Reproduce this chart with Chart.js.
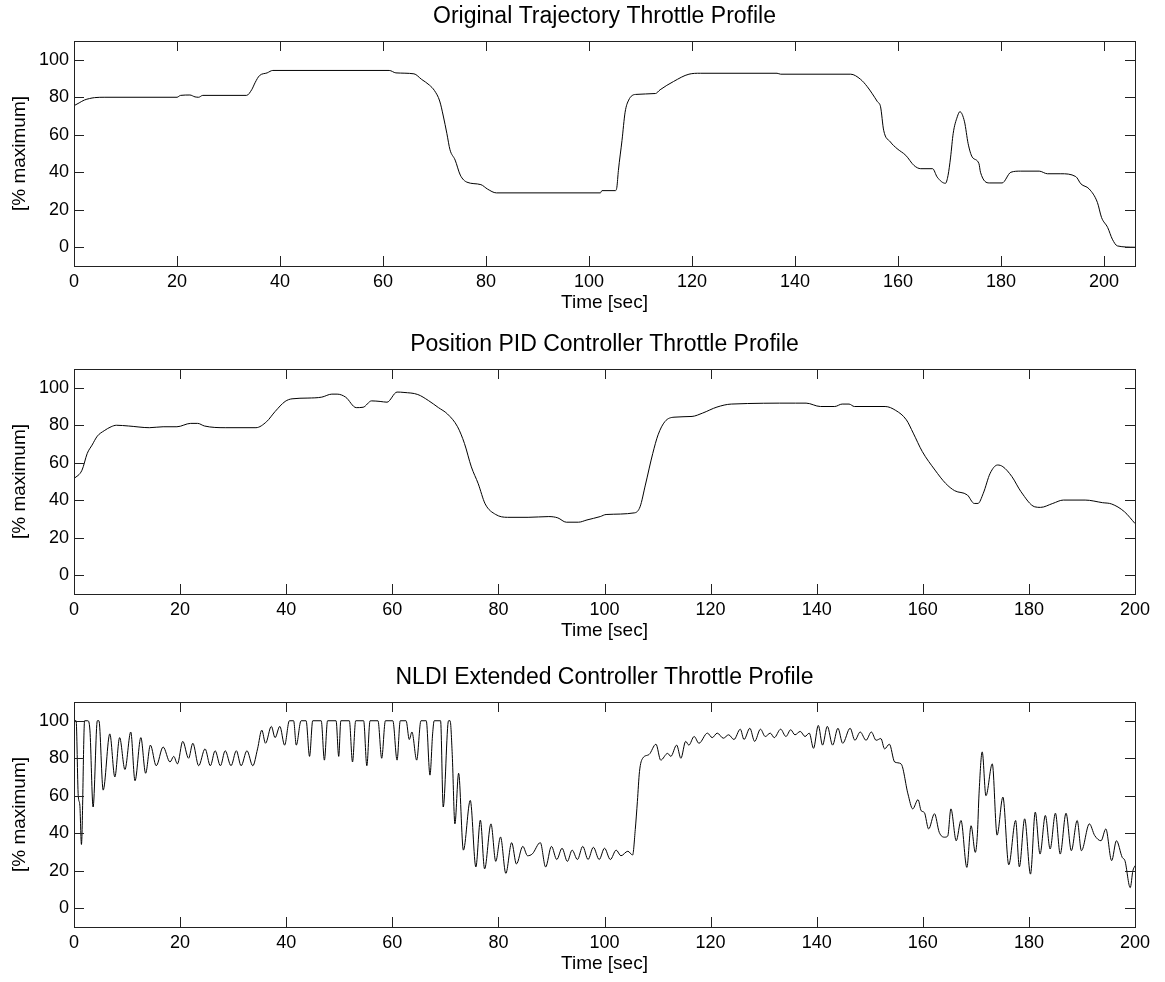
<!DOCTYPE html>
<html lang="en">
<head>
<meta charset="UTF-8">
<title>Throttle Profiles</title>
<script src="https://cdn.jsdelivr.net/npm/chart.js@4.4.1/dist/chart.umd.min.js"></script>
<style>
  body { margin: 0; background: #fff; }
  canvas.panel { position: absolute; left: 0; }
</style>
</head>
<body>
<canvas id="trajChart" class="panel" width="1165" height="316" style="top:0px"></canvas>
<canvas id="pidChart" class="panel" width="1165" height="316" style="top:328px"></canvas>
<canvas id="nldiChart" class="panel" width="1165" height="316" style="top:661px"></canvas>
<script>
// sampled throttle profiles, [time sec, % maximum]
var trajSamples = [
  [0,75.5],[1,77],[2,78.5],[3,79.3],[4,79.8],[6,80],[20,80],[20.7,81],[22.5,81.2],[23.5,80.2],
  [24.2,80],[25,81],[33.5,81],[34.5,84],[35.2,88],[36,91.5],[37.5,93],[38.6,94.3],[61.2,94.3],[62.5,93],
  [66,92.5],[67.5,89.5],[69,86.5],[70,83.5],[71,78],[71.7,70],[72.4,60.6],[73,52],[74,46.5],[75,38.5],
  [76.3,34.7],[79,33.4],[80.3,31],[82,29],[102.2,29],[102.5,30.2],[105.1,30.2],[105.4,32],[105.7,41],[106.4,57],
  [107,72],[107.7,78.5],[109,81.5],[112.9,82],[113.8,84],[116.4,88.4],[119.4,92.3],[121.6,92.8],[136.5,92.8],[137.2,92.3],
  [150.8,92.3],[152.7,89.6],[154,85.7],[156,77.6],[156.6,74.9],[157.2,62.4],[158.5,56.2],[159.8,52.6],[161.5,49],[163.1,43.6],
  [164.4,41.9],[166.7,41.9],[167.6,37.4],[169.2,34.1],[169.7,38.3],[170.2,48.1],[170.7,60.7],[171.5,69.6],[172,72.3],[172.9,66.9],
  [173.6,55.3],[174.4,48.1],[175.7,44.6],[176,40],[177.7,34.3],[180.2,34.3],[181.9,40],[183.8,40.6],[187.4,40.6],[189,39.2],
  [191.6,39.2],[194.5,37.7],[195.5,33.8],[197.1,31.1],[198.7,23.9],[199.5,15.9],[200.7,10.5],[201.6,4.3],[202.6,0.7],[206,0]
];

var pidSamples = [
  [0,51.5],[1.5,56],[2.5,65],[3.4,69.4],[4.4,74.2],[5.7,77.1],[7,79.2],[8,80],[10.3,79.6],[14.2,78.7],
  [16.8,79.2],[19.4,79.2],[22,81],[23.3,81],[24.6,79.6],[28.5,78.7],[34.3,78.7],[36.3,81.9],[37.9,87.3],[39.8,92.7],
  [41.1,94.1],[44.1,94.5],[46.7,95],[48.6,96.6],[49.6,96.6],[51.2,95],[53.2,89.4],[54.5,89.6],[56.1,93],[57.7,92.7],
  [59,92.3],[60.9,97.7],[62.2,97.5],[64.8,96.4],[66.8,93.2],[68.7,89.4],[70.4,86],[72.3,79.2],[73.6,70.3],[74.9,57.8],
  [76.2,48.8],[77.5,38.1],[79.5,32.4],[81.7,30.9],[85.6,30.9],[89.5,31.3],[91.2,30.6],[92.8,28.3],[95.1,28.3],[96.7,29.5],
  [99.2,31.3],[100.3,32.4],[105.7,33.3],[106.7,36.5],[107.7,48.1],[109.1,65],[110.1,74.9],[111.4,82],[113.1,84.3],[116.5,84.7],
  [118.5,86.5],[121.2,89.7],[123.9,91.3],[136,91.8],[138,91.8],[140.7,90],[143.4,90],[144.8,91.3],[146.1,91.3],[147.1,90],
  [152.9,90],[154.9,87.9],[156.9,82.9],[158.2,75.8],[159.9,66],[162.3,56.1],[164.3,49],[166,45.1],[168.4,42.8],[169.7,38.3],
  [170.4,38.3],[171.4,43.7],[172.7,54.4],[174.1,58.8],[175.1,57.9],[176.8,52.6],[178.5,44.6],[181.1,36.5],[182.2,36.2],[184.5,38.3],
  [186.5,40.1],[190.6,40.1],[193.9,38.7],[195.6,38],[198,33.9],[200,27.6]
];

var nldiSamples = [
  [0,100],[0.4,100],[0.8,60],[1.1,55],[1.4,34],[2.0,100],[2.6,100],[3.0,95],[3.6,54],[4.4,100],
  [4.7,100],[5.5,63],[6.75,93],[7.7,70],[8.6,91],[9.6,74],[10.7,94],[11.5,68],[12.6,91],[13.5,72],
  [14.4,87],[15.5,76],[16.8,86],[18.1,78],[18.8,81],[19.5,77],[20.5,89],[21.6,80],[22.4,88],[23.5,76],
  [24.7,85],[25.7,76],[26.6,84],[27.6,76],[28.5,84],[29.6,76],[30.6,84],[31.5,76],[32.6,84],[33.7,76],
  [34.6,85],[35.4,95],[36.1,88],[37.2,97],[37.9,91],[38.8,97],[39.7,87],[40.6,100],[41.4,100],[41.9,87],
  [42.8,100],[43.75,100],[44.4,81],[45,100],[46.6,100],[47.2,79],[47.8,100],[49.4,100],[49.9,81],[50.3,100],
  [51.9,100],[52.5,78],[53.1,100],[54.6,100],[55.2,76],[55.8,100],[57.3,100],[58.0,80],[58.7,100],[60.1,100],
  [60.9,79],[61.5,100],[62.6,100],[63.2,90],[63.7,94],[64.6,79],[65.4,100],[66.4,100],[67.1,71],[67.6,93],
  [67.9,100],[69.1,100],[69.6,54],[70.6,100],[70.9,100],[71.3,82],[71.8,45],[72.5,72],[73.4,31],[74.7,57.5],
  [75.75,22],[76.6,47],[77.4,21],[78.6,45],[79.5,25],[80.4,38],[81.4,18.6],[82.5,35],[83.4,23.6],[84.6,33],
  [85.5,28],[86.4,29],[87.9,35],[88.9,22],[90,33],[91,26],[92,32],[93,25],[93.9,31],[94.9,26],
  [95.9,33],[96.9,26],[97.9,32.5],[99,26],[100,32],[101.1,26],[102.2,31],[103.1,28],[104.4,30.4],[105.3,28.4],
  [105.8,42],[106.2,57],[106.6,73],[107.2,80],[108.4,82],[109.7,87.5],[110.6,79],[111.9,82.6],[112.5,81],[113.6,87],
  [114.4,80],[115.3,89],[115.9,87],[116.9,91.6],[117.8,88],[119.4,93.4],[120.3,91],[121.25,93.4],[122.4,90.7],[123.4,92.5],
  [124.4,90],[125.6,95.5],[126.3,90],[127.4,96],[128.3,89],[129.4,95.5],[130.3,91.6],[131.25,93.4],[132,91],[133.2,95.5],
  [134.2,91.6],[135.1,95.2],[135.9,92.5],[136.9,94.3],[137.8,91.6],[138.6,93.4],[139.4,85.3],[140.3,97.5],[141.1,87],[142,97],
  [143,87],[144,96],[144.9,88],[146.3,96],[147.2,89.6],[148.2,94],[149.3,89.6],[150.3,94],[151.2,89.6],[152.1,90.5],
  [152.8,85],[153.7,87.5],[154.7,78],[155.9,77],[157.2,61],[158.1,53],[159.1,57.9],[159.7,52],[160.3,51],[161.1,42.3],
  [162.2,50.4],[163.1,40.5],[164.1,37.9],[164.7,38.5],[165.3,53],[166.3,36],[167.2,46.8],[168.3,21.8],[169.1,44],[169.9,29.8],
  [170.3,40],[170.6,61],[171.2,83.4],[171.9,60],[173.1,77],[174,39],[175.1,59.3],[176.2,23.2],[177.5,46.8],[178.2,22.1],
  [179.2,47.7],[180.3,18.2],[181.2,51.3],[182.1,28.9],[183.1,49.5],[184,31.6],[185,50.7],[185.9,28.9],[187,50.7],[188,30.7],
  [189.1,46.8],[189.9,30.7],[191.4,45],[192.4,38.8],[193.6,36],[194.5,42.3],[195.6,25.4],[196.5,36],[197.6,27.1],[198.1,25.4],
  [199.1,11],[199.6,20],[200,22.7]
];

var timeTicks = [0, 20, 40, 60, 80, 100, 120, 140, 160, 180, 200];
var throttleTicks = [0, 20, 40, 60, 80, 100];

var FONT = '"Liberation Sans", Arial, Helvetica, sans-serif';

// matlab style box: frame plus inward tick marks on all four sides
var boxTicks = {
    id: 'boxTicks',
    afterDraw: function (chart) {
        var ctx = chart.ctx, a = chart.chartArea;
        var xs = chart.scales.x, ys = chart.scales.y;
        var len = 10;
        ctx.save();
        ctx.strokeStyle = '#222';
        ctx.lineWidth = 1;
        ctx.beginPath();
        xs.ticks.forEach(function (t) {
            var px = Math.round(xs.getPixelForValue(t.value)) + 0.5;
            ctx.moveTo(px, a.bottom); ctx.lineTo(px, a.bottom - len);
            ctx.moveTo(px, a.top); ctx.lineTo(px, a.top + len);
        });
        ys.ticks.forEach(function (t) {
            var py = Math.round(ys.getPixelForValue(t.value)) + 0.5;
            ctx.moveTo(a.left, py); ctx.lineTo(a.left + len, py);
            ctx.moveTo(a.right, py); ctx.lineTo(a.right - len, py);
        });
        ctx.stroke();
        ctx.strokeRect(Math.round(a.left) + 0.5, Math.round(a.top) + 0.5,
            Math.round(a.width), Math.round(a.height));
        ctx.restore();
    }
};

function makePanel(id, title, samples, xMax) {
    var ctx = document.getElementById(id).getContext('2d');
    return new Chart(ctx, {
        type: 'line',
        data: {
            datasets: [{
                data: samples.map(function (p) { return {x: p[0], y: p[1]}; }),
                borderColor: '#000',
                borderWidth: 1,
                pointRadius: 0,
                fill: false,
                cubicInterpolationMode: 'monotone'
            }]
        },
        options: {
            responsive: false,
            animation: false,
            devicePixelRatio: 1,
            layout: {padding: {left: 0, right: 30, top: 0, bottom: 0}},
            plugins: {
                legend: {display: false},
                tooltip: {enabled: false},
                title: {
                    display: true,
                    text: title,
                    color: '#000',
                    fullSize: false,
                    font: {family: FONT, size: 23, weight: 'normal'},
                    padding: {top: 3, bottom: 10.4}
                }
            },
            scales: {
                x: {
                    type: 'linear',
                    min: 0,
                    max: xMax,
                    grid: {display: false, drawTicks: false},
                    border: {display: false},
                    afterBuildTicks: function (s) {
                        s.ticks = timeTicks.map(function (v) { return {value: v}; });
                    },
                    afterFit: function (s) { s.height = 50; },
                    ticks: {color: '#000', padding: 5, maxRotation: 0, font: {family: FONT, size: 18}},
                    title: {
                        display: true, text: 'Time [sec]', color: '#000',
                        font: {family: FONT, size: 19}, padding: {top: 0, bottom: 1.5}
                    }
                },
                y: {
                    min: -10,
                    max: 110,
                    grid: {display: false, drawTicks: false},
                    border: {display: false},
                    afterBuildTicks: function (s) {
                        s.ticks = throttleTicks.map(function (v) { return {value: v}; });
                    },
                    afterFit: function (s) { s.width = 74; },
                    ticks: {color: '#000', padding: 5, font: {family: FONT, size: 18}},
                    title: {
                        display: true, text: '[% maximum]', color: '#000',
                        font: {family: FONT, size: 19}, padding: {top: 8, bottom: 0}
                    }
                }
            }
        },
        plugins: [boxTicks]
    });
}

makePanel('trajChart', 'Original Trajectory Throttle Profile', trajSamples, 206);
makePanel('pidChart', 'Position PID Controller Throttle Profile', pidSamples, 200);
makePanel('nldiChart', 'NLDI Extended Controller Throttle Profile', nldiSamples, 200);
</script>
</body>
</html>
